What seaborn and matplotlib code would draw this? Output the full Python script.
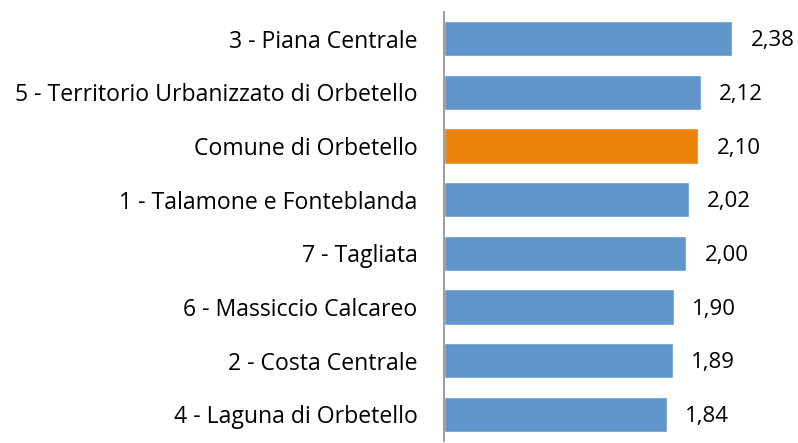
import numpy as np
import pandas as pd
import matplotlib
matplotlib.use('Agg')
import matplotlib.pyplot as plt
import seaborn as sns

zones = ['3 - Piana Centrale',
         '5 - Territorio Urbanizzato di Orbetello',
         'Comune di Orbetello',
         '1 - Talamone e Fonteblanda',
         '7 - Tagliata',
         '6 - Massiccio Calcareo',
         '2 - Costa Centrale',
         '4 - Laguna di Orbetello']
values = [2.38, 2.12, 2.10, 2.02, 2.00, 1.90, 1.89, 1.84]
highlight = 'Comune di Orbetello'

blue = '#6096CA'
orange = '#EB820A'

df = pd.DataFrame({'zona': zones, 'valore': values})
df['tipo'] = np.where(df['zona'] == highlight, 'comune', 'zona')

sns.set_style('white')
plt.rcParams['font.family'] = ['Open Sans', 'DejaVu Sans']

fig = plt.figure(figsize=(7.98, 4.43), dpi=100)
ax = fig.add_axes([0.5564, 0.004, 0.41, 0.969])

sns.barplot(data=df, y='zona', x='valore', hue='tipo', orient='h',
            palette={'zona': blue, 'comune': orange}, dodge=False,
            width=0.66, legend=False, ax=ax, saturation=1)

ax.set_xlim(0, 2.7)
ax.set_ylim(len(zones) - 0.5, -0.5)
ax.set_xlabel('')
ax.set_ylabel('')
ax.set_xticks([])

# value labels, comma decimal
for i, v in enumerate(values):
    ax.text(v + 0.15, i + 0.04, '{:.2f}'.format(v).replace('.', ','),
            va='center', ha='left', fontsize=16, color='#000000',
            clip_on=False)

ax.tick_params(axis='y', which='major', length=0, pad=19, labelsize=16.6,
               labelcolor='#000000')
ax.set_yticks(np.arange(-0.5, len(zones), 1), minor=True)
ax.tick_params(axis='y', which='minor', length=6, width=1.2, color='#8C8C8C')

for s in ['top', 'right', 'bottom']:
    ax.spines[s].set_visible(False)
ax.spines['left'].set_color('#8C8C8C')
ax.spines['left'].set_linewidth(1.2)

plt.savefig('out.png', dpi=100)
